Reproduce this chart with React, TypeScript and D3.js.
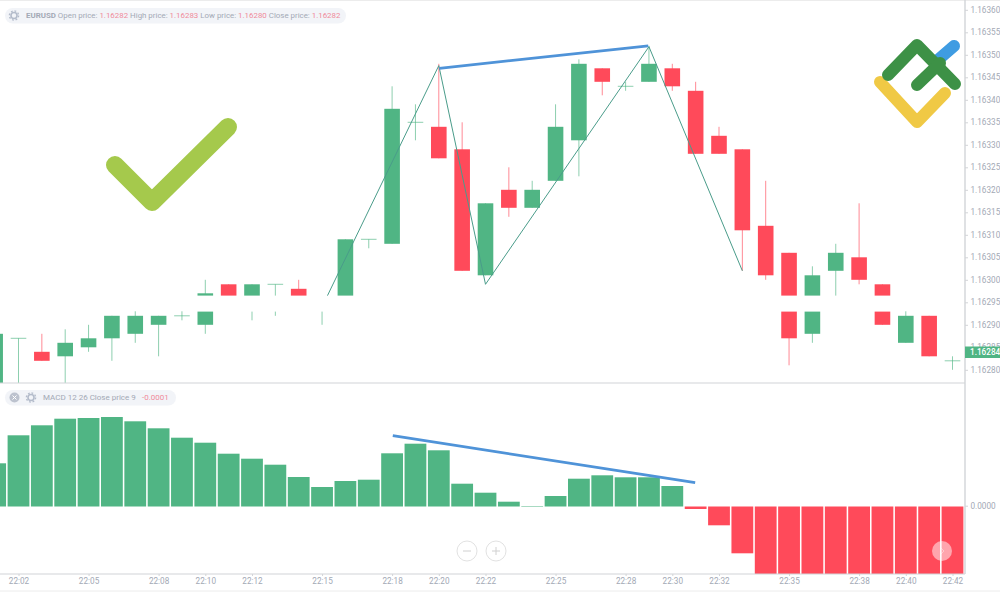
import React, { useEffect, useRef } from "react";
import * as d3 from "d3";

// minutes after 22:00
const minutes = [
  1, 2, 3, 4, 5, 6, 7, 8, 9, 10, 11, 12, 13, 14, 15, 16, 17, 18, 19, 20, 21,
  22, 23, 24, 25, 26, 27, 28, 29, 30, 31, 32, 33, 34, 35, 36, 37, 38, 39, 40,
  41, 42,
];
const opens = [
  1.16268, 1.16287, 1.16284, 1.16283, 1.16285, 1.16287, 1.16288, 1.1629, 1.16292, 1.1629, 1.16299,
  1.16295, 1.16299, 1.16298, 1.16294, 1.16295, 1.16309, 1.16308, 1.16335, 1.16334, 1.16329,
  1.16301, 1.1632, 1.16316, 1.16322, 1.16331, 1.16347, 1.16343, 1.16344, 1.16347, 1.16342,
  1.16332, 1.16329, 1.16312, 1.16306, 1.16288, 1.16302, 1.16305, 1.16299, 1.16286, 1.16292, 1.16282,
];
const highs = [
  1.16288, 1.16287, 1.16288, 1.16289, 1.1629, 1.16292, 1.16293, 1.16292, 1.16293, 1.163, 1.16299,
  1.16299, 1.16299, 1.163, 1.16295, 1.16309, 1.16309, 1.16343, 1.16339, 1.16348, 1.16335,
  1.16317, 1.16325, 1.16322, 1.16339, 1.16349, 1.16347, 1.16344, 1.16352, 1.16348, 1.16344,
  1.16334, 1.16329, 1.16322, 1.16306, 1.16303, 1.16308, 1.16317, 1.16299, 1.16293, 1.16292, 1.16283,
];
const lows = [
  1.16268, 1.16268, 1.16282, 1.16272, 1.16284, 1.16282, 1.16286, 1.16283, 1.16291, 1.16288, 1.16295,
  1.16291, 1.16292, 1.16295, 1.1629, 1.16295, 1.16307, 1.16308, 1.16331, 1.16327, 1.16302,
  1.16301, 1.16314, 1.16316, 1.16322, 1.16323, 1.16341, 1.16342, 1.16344, 1.16342, 1.16328,
  1.16328, 1.16302, 1.163, 1.16281, 1.16286, 1.16296, 1.16299, 1.1629, 1.16286, 1.16283, 1.1628,
];
const closes = [
  1.16288, 1.16287, 1.16282, 1.16286, 1.16287, 1.16292, 1.16292, 1.16292, 1.16292, 1.16297, 1.16295,
  1.16299, 1.16299, 1.16295, 1.16295, 1.16309, 1.16309, 1.16338, 1.16335, 1.16327, 1.16302,
  1.16317, 1.16316, 1.1632, 1.16334, 1.16348, 1.16344, 1.16343, 1.16348, 1.16343, 1.16328,
  1.16328, 1.16311, 1.16301, 1.16287, 1.16301, 1.16306, 1.163, 1.1629, 1.16292, 1.16283, 1.16282,
];

// MACD histogram, in millionths
const macdValues = [
  43.2, 71.2, 81.2, 87.8, 88.5, 89.5, 85.2, 78.2, 68.8, 63.8, 52.8, 47.8, 41.8, 29.5, 19.5, 25.5,
  26.8, 53.2, 62.8, 56.2, 22.8, 13.8, 4.8, 0.5, 10.5, 27.8, 31.2, 29.2, 29.2, 20.5, -2.5, -18.8,
  -46.8, -82, -88, -94, -97, -100, -102, -104, -105, -106,
];

const priceTicks = [
  1.1628, 1.16285, 1.1629, 1.16295, 1.163, 1.16305, 1.1631, 1.16315, 1.1632, 1.16325, 1.1633,
  1.16335, 1.1634, 1.16345, 1.1635, 1.16355, 1.1636,
];
const timeTicks = [2, 5, 8, 10, 12, 15, 18, 20, 22, 25, 28, 30, 32, 35, 38, 40, 42];

// zigzag pivots and the two hand drawn trend lines
const zigzagMinutes = [15, 20, 22, 29, 33];
const zigzagPrices = [1.16294, 1.163476, 1.16299, 1.163518, 1.16302];
const priceTrendMinutes = [20.02, 28.97];
const priceTrendPrices = [1.16347, 1.16352];
const macdTrendMinutes = [18.03, 30.98];
const macdTrendValues = [70.8, 23.8];

const GREEN = "#50b584";
const RED = "#ff4a5a";
const AXIS = "#d2d4d8";
const TEXT = "#a3a9b5";
const TEXT_RED = "#f08a9a";
const BLUE = "#4f93d8";
const FONT = "Roboto, sans-serif";

const WIDTH = 1000;
const HEIGHT = 592;
const PLOT_RIGHT = 965;
const PRICE_BOTTOM = 383;
const MACD_TOP = 384;
const MACD_BOTTOM = 574;

const x = d3.scaleLinear().domain([2, 42]).range([18.5, 952.5]);
const yPrice = d3.scaleLinear().domain([1.1628, 1.1636]).range([369.8, 9.8]);
const yMacd = d3.scaleLinear().domain([0, 100]).range([506.5, 406.5]);

const candleW = 15.6;
const barW = 21.8;

const Gear = ({ cx, cy }: { cx: number; cy: number }) => (
  <g>
    <circle cx={cx} cy={cy} r={3} fill="none" stroke="#b4bccb" strokeWidth={1.6} />
    <circle cx={cx} cy={cy} r={4.6} fill="none" stroke="#b4bccb" strokeWidth={1.4} strokeDasharray="1.8 1.8" />
  </g>
);

export default function App() {
  const priceAxisRef = useRef<SVGGElement>(null);
  const timeAxisRef = useRef<SVGGElement>(null);
  const macdAxisRef = useRef<SVGGElement>(null);

  useEffect(() => {
    const style = (g: any) => {
      g.select(".domain").remove();
      g.selectAll("line").attr("stroke", AXIS);
      g.selectAll("text")
        .attr("fill", TEXT)
        .style("font-family", FONT)
        .style("font-size", "8.2px");
    };
    d3.select(priceAxisRef.current)
      .call(d3.axisRight(yPrice).tickValues(priceTicks).tickFormat(d3.format(".5f")).tickSize(3).tickPadding(2.5) as any)
      .call(style);
    d3.select(macdAxisRef.current)
      .call(d3.axisRight(yMacd).tickValues([0]).tickFormat(() => "0.0000").tickSize(3).tickPadding(2.5) as any)
      .call(style);
    d3.select(timeAxisRef.current)
      .call(d3.axisBottom(x).tickValues(timeTicks).tickFormat((d: any) => `22:${String(d).padStart(2, "0")}`).tickSize(2).tickPadding(2.5) as any)
      .call(style);
  }, []);

  const zigzag = d3.line<number>().x((d) => x(d)).y((_, i) => yPrice(zigzagPrices[i]));
  const priceTrend = d3.line<number>().x((d) => x(d)).y((_, i) => yPrice(priceTrendPrices[i]));
  const macdTrend = d3.line<number>().x((d) => x(d)).y((_, i) => yMacd(macdTrendValues[i]));

  return (
    <svg
      width={WIDTH}
      height={HEIGHT}
      style={{ position: "fixed", left: 0, top: 0, background: "#fff" }}
    >
      <defs>
        <clipPath id="price-clip">
          <rect x={0} y={0} width={PLOT_RIGHT} height={PRICE_BOTTOM} />
        </clipPath>
        <clipPath id="macd-clip">
          <rect x={0} y={MACD_TOP} width={PLOT_RIGHT} height={MACD_BOTTOM - MACD_TOP} />
        </clipPath>
      </defs>

      {/* candles */}
      <g clipPath="url(#price-clip)">
        {minutes.map((m, i) => {
          const up = closes[i] >= opens[i];
          const color = up ? GREEN : RED;
          const top = yPrice(Math.max(opens[i], closes[i]));
          const bottom = yPrice(Math.min(opens[i], closes[i]));
          return (
            <g key={m}>
              <line x1={x(m)} x2={x(m)} y1={yPrice(highs[i])} y2={yPrice(lows[i])} stroke={color} strokeOpacity={0.65} />
              {top === bottom ? (
                <line x1={x(m) - candleW / 2} x2={x(m) + candleW / 2} y1={top} y2={top} stroke={color} strokeOpacity={0.65} />
              ) : (
                <rect x={x(m) - candleW / 2} y={top} width={candleW} height={bottom - top} fill={color} />
              )}
            </g>
          );
        })}
        <path d={zigzag(zigzagMinutes) ?? ""} fill="none" stroke="#4a9c8a" strokeWidth={1} />
        {/* white strip cut across the candles in the original picture */}
        <rect x={195} y={295.6} width={700} height={16} fill="#fff" />
        <path d={priceTrend(priceTrendMinutes) ?? ""} fill="none" stroke={BLUE} strokeWidth={2.8} />
      </g>

      {/* MACD histogram */}
      <g clipPath="url(#macd-clip)">
        {minutes.map((m, i) => {
          const y0 = yMacd(0);
          const y1 = yMacd(macdValues[i]);
          return (
            <rect
              key={m}
              x={x(m) - barW / 2}
              y={Math.min(y0, y1)}
              width={barW}
              height={Math.abs(y1 - y0)}
              fill={macdValues[i] >= 0 ? GREEN : RED}
            />
          );
        })}
      </g>
      <path d={macdTrend(macdTrendMinutes) ?? ""} fill="none" stroke={BLUE} strokeWidth={2.8} />

      {/* frame */}
      <line x1={0} x2={WIDTH} y1={0.5} y2={0.5} stroke="#ececec" />
      <line x1={0} x2={WIDTH} y1={591} y2={591} stroke="#ececec" />
      <line x1={0} x2={PLOT_RIGHT} y1={PRICE_BOTTOM} y2={PRICE_BOTTOM} stroke={AXIS} strokeWidth={1.2} />
      <line x1={0} x2={PLOT_RIGHT} y1={MACD_BOTTOM} y2={MACD_BOTTOM} stroke={AXIS} strokeWidth={1.2} />
      <line x1={PLOT_RIGHT} x2={PLOT_RIGHT} y1={0} y2={MACD_BOTTOM} stroke={AXIS} strokeWidth={1.4} />

      {/* axes */}
      <g ref={priceAxisRef} transform={`translate(${PLOT_RIGHT},0)`} />
      <g ref={macdAxisRef} transform={`translate(${PLOT_RIGHT},-0.8)`} />
      <g ref={timeAxisRef} transform={`translate(0,${MACD_BOTTOM})`} />

      {/* last price tag */}
      <rect x={PLOT_RIGHT} y={346.5} width={35} height={11.5} fill={GREEN} />
      <text x={970} y={355.2} fill="#fff" fontFamily={FONT} fontSize={8.2} fontWeight={500}>
        1.16284
      </text>

      {/* header pills */}
      <rect x={5} y={8} width={341} height={15.5} rx={7.7} fill="#f2f4f8" />
      <Gear cx={14} cy={15.5} />
      <text x={26} y={18.3} fontFamily={FONT} fontSize={7.9} fill={TEXT}>
        <tspan fontWeight={700}>EURUSD</tspan>
        <tspan> Open price: </tspan>
        <tspan fill={TEXT_RED}>1.16282</tspan>
        <tspan> High price: </tspan>
        <tspan fill={TEXT_RED}>1.16283</tspan>
        <tspan> Low price: </tspan>
        <tspan fill={TEXT_RED}>1.16280</tspan>
        <tspan> Close price: </tspan>
        <tspan fill={TEXT_RED}>1.16282</tspan>
      </text>

      <rect x={5} y={390} width={171} height={15.5} rx={7.7} fill="#f2f4f8" />
      <circle cx={14.5} cy={397.5} r={5} fill="#bcc2ce" />
      <path d="M12.5 395.5 L16.5 399.5 M16.5 395.5 L12.5 399.5" stroke="#fff" strokeWidth={1} />
      <Gear cx={31} cy={397.5} />
      <text x={43} y={400.3} fontFamily={FONT} fontSize={8} fill={TEXT}>
        MACD 12 26 Close price 9
      </text>
      <text x={142} y={400.3} fontFamily={FONT} fontSize={8} fill={TEXT_RED}>
        -0.0001
      </text>

      {/* chart zoom buttons */}
      <g fill="none" stroke="#e2e2e2" strokeWidth={1}>
        <circle cx={467} cy={551} r={10} />
        <circle cx={496} cy={551} r={10} />
        <path d="M463 551 H471 M492 551 H500 M496 547 V555" stroke="#d0d0d0" />
      </g>
      <circle cx={942} cy={551} r={10} fill="#fff" fillOpacity={0.5} />
      <path d="M940.5 547.5 L944 551 L940.5 554.5" fill="none" stroke="#fff" strokeOpacity={0.4} />

      {/* check mark */}
      <path d="M115 165 L152 202 L228 127" fill="none" stroke="#a5c94c" strokeWidth={18} strokeLinecap="round" strokeLinejoin="round" />

      {/* logo */}
      <g fill="none" strokeWidth={12} strokeLinecap="round" strokeLinejoin="round">
        <path d="M939 59 L954 46" stroke="#3f9ce2" />
        <path d="M880 82 L917 122 L945 93" stroke="#f0c945" />
        <path d="M888 75 L917 45 L955 84" stroke="#3d9146" />
        <path d="M917 85 L940 63" stroke="#3d9146" />
      </g>
    </svg>
  );
}
